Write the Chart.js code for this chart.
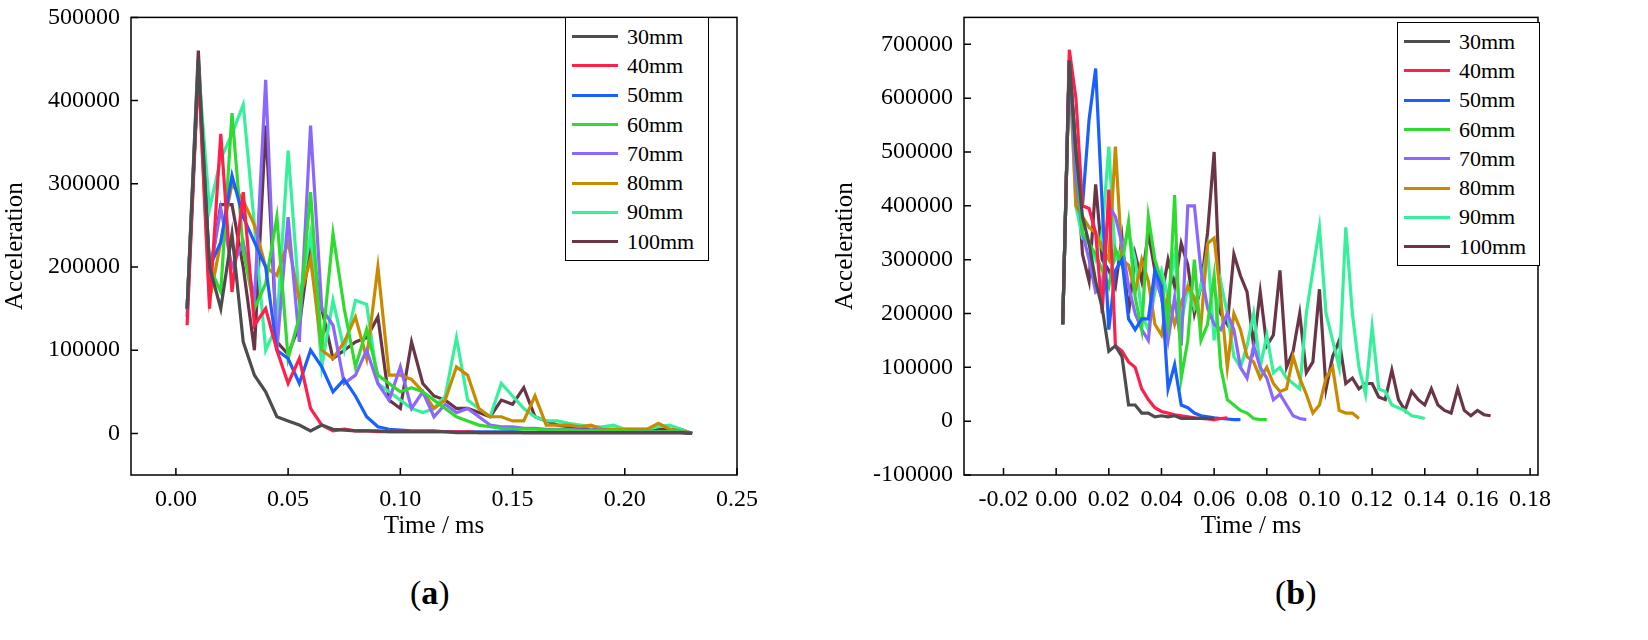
<!DOCTYPE html><html><head><meta charset="utf-8">
<script src="https://cdn.jsdelivr.net/npm/chart.js@4"></script>
<style>body{margin:0;background:#fff;width:1648px;height:640px;position:relative;overflow:hidden;font-family:"Liberation Serif",serif}
.c{position:absolute}.lg{position:absolute;border:1.5px solid #000;background:#fff;font-size:22px;padding:4px 0}
.lg div{height:29.3px;display:flex;align-items:center}.lg span{display:inline-block;width:46px;height:3px;margin:0 9px 0 6px}
.cap{position:absolute;top:574px;font-size:34px}</style></head><body>
<div class="c" style="left:0;top:0;width:760px;height:545px"><canvas id="a"></canvas></div>
<div class="c" style="left:830px;top:0;width:730px;height:545px"><canvas id="b"></canvas></div>
<div class="lg" id="la" style="left:565px;top:17px;width:142px"></div>
<div class="lg" id="lb" style="left:1397px;top:22px;width:141px"></div>
<div class="cap" style="left:410px">(<b>a</b>)</div><div class="cap" style="left:1275px">(<b>b</b>)</div>
<script>
const names=["30mm","40mm","50mm","60mm","70mm","80mm","90mm","100mm"];
const colors=["#4d4d4d","#ff1f4b","#1a5fff","#2fdb30","#8a68ff","#c98a00","#36f09c","#6b3548"];
const aStart=0.005, aStep=0.005, bStart=0.0025, bStep=0.0025;
const aTicksX=[0,0.05,0.10,0.15,0.20,0.25], aTicksY=[0,100000,200000,300000,400000,500000];
const bTicksX=[-0.02,0,0.02,0.04,0.06,0.08,0.10,0.12,0.14,0.16,0.18], bTicksY=[-100000,0,100000,200000,300000,400000,500000,600000,700000];
// panel a values (thousands)
const a30=[150,450,200,150,240,110,70,50,20,15,10,3,10,5,4,3,3,3,2,2,2,2,2,2,1,1,1,1,1,1,1,1,1,1,1,1,1,1,1,1,1,1,1,1,1,0];
const a40=[130,440,150,360,170,290,130,150,100,60,90,30,10,3,5,3,3,2,2,2,2,2,2,2,2,2,1,1,1,1,1,1,1,1,1,1,1,1,1,1,1,1,1,1,1,0];
const a50=[140,440,200,230,310,260,230,200,100,90,60,100,80,50,65,45,20,8,5,4,3,3,3,2,2,2,2,2,2,2,1,1,1,1,1,1,1,1,1,1,1,1,1,1,1,0];
const a60=[150,440,200,170,385,220,150,180,260,90,140,290,100,240,150,80,125,70,60,50,55,50,40,30,20,15,10,8,6,5,5,5,4,4,4,3,3,3,3,3,2,2,2,2,2,0];
const a70=[150,440,190,270,200,230,160,425,100,260,110,370,150,130,60,70,100,60,40,80,30,50,20,35,25,30,20,10,8,8,6,6,5,5,5,4,4,4,3,3,3,3,2,2,2,0];
const a80=[150,440,160,230,300,280,250,200,190,230,160,210,100,90,110,140,90,200,70,70,65,50,30,40,80,70,30,20,20,15,15,45,10,10,10,8,10,5,5,5,5,5,12,5,3,0];
const a90=[150,440,270,330,360,395,250,100,130,340,160,240,80,160,100,160,155,60,50,40,30,25,30,45,115,40,30,20,60,45,30,20,15,15,12,10,8,8,10,5,5,5,8,10,5,0];
const a100=[150,460,190,275,275,200,100,370,110,95,130,230,150,90,100,110,115,140,40,30,110,60,45,40,30,30,25,20,40,35,55,20,15,10,8,5,8,5,5,5,5,5,5,5,5,0];
// panel b values (thousands)
const b30=[180,670,500,380,330,260,210,130,140,120,30,30,15,15,8,10,8,10,5,5,5,5,5,5];
const b40=[180,690,600,400,395,350,200,430,140,130,110,100,60,40,25,18,15,12,10,8,6,5,4,3,5,6];
const b50=[180,670,500,400,560,655,400,170,280,300,190,170,190,190,280,250,60,105,30,25,15,10,8,6,5,4,3,3];
const b60=[180,670,500,350,330,310,280,250,320,290,370,230,170,380,300,260,180,420,80,150,300,150,180,270,100,40,30,20,15,5,3,3];
const b70=[180,670,450,350,300,240,250,400,380,330,250,200,170,150,270,230,150,230,140,400,400,280,210,180,170,200,170,100,80,140,100,80,40,50,30,10,5,3];
const b80=[180,670,400,380,360,350,320,300,510,300,290,240,300,260,180,160,230,180,220,250,230,180,330,340,230,100,200,170,120,110,80,100,70,55,60,120,80,50,15,30,80,100,20,15,15,5];
const b90=[180,670,400,340,330,300,350,510,300,320,350,300,200,170,240,280,230,310,180,250,210,250,320,150,260,200,120,100,140,200,100,160,90,100,80,70,60,200,280,360,200,150,100,360,200,100,50,175,60,55,30,25,20,10,8,5];
const b100=[180,670,500,310,260,440,300,280,250,340,200,310,260,350,280,230,300,250,330,290,200,250,350,500,200,180,310,270,240,140,240,140,160,280,100,130,200,90,110,245,60,120,150,70,80,60,70,70,45,40,95,40,20,55,40,30,60,30,20,15,60,20,10,20,12,10];
const A=[a30,a40,a50,a60,a70,a80,a90,a100], B=[b30,b40,b50,b60,b70,b80,b90,b100];
function ds(arr,start,step){return arr.map((v,i)=>({label:names[i],borderColor:colors[i],borderWidth:3.2,pointRadius:0,tension:0,data:v.map((y,j)=>({x:start+j*step,y:y*1000}))}));}
const frame={id:'frame',afterDraw(c){const {ctx,chartArea:a,scales:{x,y}}=c;ctx.save();ctx.strokeStyle='#000';ctx.lineWidth=1.5;ctx.strokeRect(a.left,a.top,a.right-a.left,a.bottom-a.top);
ctx.beginPath();x.ticks.forEach(t=>{const p=x.getPixelForValue(t.value);ctx.moveTo(p,a.bottom);ctx.lineTo(p,a.bottom-7);});
y.ticks.forEach(t=>{const p=y.getPixelForValue(t.value);ctx.moveTo(a.left,p);ctx.lineTo(a.left+7,p);});ctx.stroke();ctx.restore();}};
function mk(id,data,xmin,xmax,ymin,ymax,tx,ty,pad){
 const F={family:'"Liberation Serif",serif',size:24};
 new Chart(document.getElementById(id),{type:'line',data:{datasets:data},plugins:[frame],options:{animation:false,responsive:true,maintainAspectRatio:false,
 layout:{padding:pad},plugins:{legend:{display:false},tooltip:{enabled:false}},
 scales:{x:{type:'linear',min:xmin,max:xmax,afterBuildTicks:s=>{s.ticks=tx.map(v=>({value:v}))},afterFit:s=>{s.height=70},grid:{display:false},border:{display:false},
  ticks:{color:'#000',font:F,maxRotation:0,padding:2,callback:v=>v.toFixed(2)},title:{display:true,text:'Time / ms',color:'#000',font:{...F,size:25},padding:{top:0}}},
 y:{min:ymin,max:ymax,afterBuildTicks:s=>{s.ticks=ty.map(v=>({value:v}))},afterFit:s=>{s.width=pad.yw},grid:{display:false},border:{display:false},
  ticks:{color:'#000',font:F,callback:v=>String(v)},title:{display:true,text:'Acceleration',color:'#000',font:{...F,size:25},padding:0}}}}});}
mk('a',ds(A,aStart,aStep),-0.02,0.25,-50000,500000,aTicksX,aTicksY,{top:12,right:22,left:0,bottom:0,yw:131});
mk('b',ds(B,bStart,bStep),-0.035,0.183,-100000,750000,bTicksX,bTicksY,{top:10,right:22,left:0,bottom:0,yw:134});
function lg(id){document.getElementById(id).innerHTML=names.map((n,i)=>`<div><span style="background:${colors[i]}"></span>${n}</div>`).join('');}
lg('la');lg('lb');
</script></body></html>
